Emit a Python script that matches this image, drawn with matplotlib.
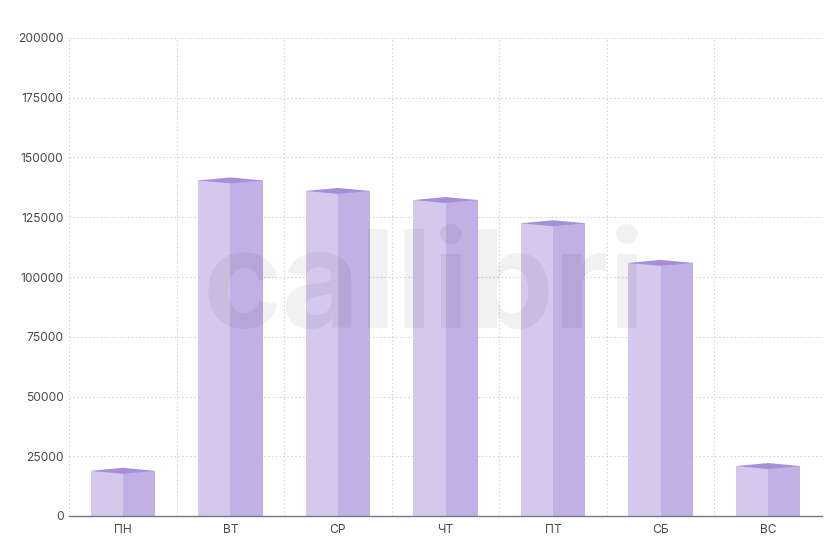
import numpy as np
import matplotlib
matplotlib.use("Agg")
import matplotlib.pyplot as plt
from matplotlib.patches import Polygon

days = ["ПН", "ВТ", "СР", "ЧТ", "ПТ", "СБ", "ВС"]
visits = [18900, 140400, 136000, 132200, 122500, 105900, 20900]
y_ticks = [0, 25000, 50000, 75000, 100000, 125000, 150000, 175000, 200000]

plt.rcParams['font.family'] = ['Inter', 'DejaVu Sans']

fig = plt.figure(figsize=(8.4, 5.6), dpi=100)
ax = fig.add_axes([69 / 840, 44 / 560, 753 / 840, 478 / 560])

x = np.arange(len(days))
w = 0.6

# front faces: light left half, darker right half
ax.bar(x - w / 4, visits, w / 2, color="#d4c9ed", zorder=2, linewidth=0)
ax.bar(x + w / 4, visits, w / 2, color="#c1b0e4", zorder=2, linewidth=0)

ax.set_xlim(-0.5, len(days) - 0.5)
ax.set_ylim(0, 200000)

# flat diamond on top of each bar, ~3px tall each way
dy = 3 * 200000 / 478
for xi, v in zip(x, visits):
    pts = [(xi - w / 2, v), (xi, v + dy), (xi + w / 2, v), (xi, v - dy)]
    ax.add_patch(Polygon(pts, closed=True, color="#a78edb", zorder=3, linewidth=0))

ax.set_xticks(x)
ax.set_xticklabels(days)
ax.set_xticks(np.arange(-0.5, len(days)), minor=True)
ax.set_yticks(y_ticks)
ax.set_yticklabels([str(t) for t in y_ticks])

ax.grid(True, which="minor", axis="x", color="#d6d6d6", linestyle=(0, (1.5, 2)), linewidth=0.8, zorder=0)
ax.grid(True, which="major", axis="y", color="#d6d6d6", linestyle=(0, (1.5, 2)), linewidth=0.8, zorder=0)
ax.set_axisbelow(True)

for s in ["top", "right", "left"]:
    ax.spines[s].set_visible(False)
ax.spines["bottom"].set_color("#7a7585")
ax.spines["bottom"].set_linewidth(1)
ax.spines["bottom"].set_zorder(4)

ax.tick_params(axis="both", which="both", length=0, labelsize=8.7, colors="#4a4a4a")
ax.tick_params(axis="x", pad=6)
ax.tick_params(axis="y", pad=4)

# watermark
fig.text(0.505, 1 - 328 / 560, "callibri", ha="center", va="baseline",
         fontsize=97, fontweight="bold", color="black", alpha=0.055, zorder=10)

fig.savefig("out.png", dpi=100)
